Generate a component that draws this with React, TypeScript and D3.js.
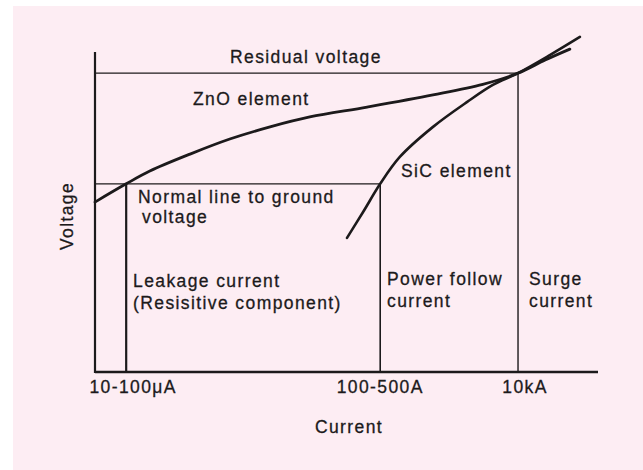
import React, { useRef, useEffect } from "react";
import * as d3 from "d3";

// schematic units: current position 0..100 along x, voltage 0..100 along y
const currentTicks = ["10-100\u03bcA", "100-500A", "10kA"];
const tickPositions = [6.2, 56.7, 84.1];
const tickLabelShift = [7, 0, 7];

const znoCurrent = [0, 6.2, 10.9, 18.9, 26.8, 34.8, 42.7, 54.1, 67.2, 77.1, 84.1, 89.5, 94.4];
const znoVoltage = [53.1, 58.8, 62.8, 68.1, 72.8, 76.6, 79.7, 82.8, 86.6, 89.9, 93.4, 97.5, 100.9];

const sicCurrent = [50.1, 53.3, 56.7, 60.6, 67.2, 74.0, 79.1, 84.1, 90.5, 96.4];
const sicVoltage = [41.9, 50.0, 58.8, 67.2, 76.6, 84.4, 89.7, 93.4, 99.1, 104.7];

const residualVoltage = 93.4;
const normalVoltage = 58.8;

const W = 643;
const H = 470;

const App = () => {
  const svgRef = useRef(null);

  useEffect(() => {
    const svg = d3.select(svgRef.current);
    svg.selectAll("*").remove();

    const font = "'Liberation Sans', Arial, sans-serif";
    const ink = "#1c1a1b";

    svg.append("rect").attr("width", W).attr("height", H).attr("fill", "#ffffff");
    svg
      .append("rect")
      .attr("x", 13)
      .attr("y", 6)
      .attr("width", W - 13)
      .attr("height", H - 6)
      .attr("fill", "#fdedf3");

    const x = d3.scaleLinear().domain([0, 100]).range([95, 598]);
    const y = d3.scaleLinear().domain([0, 100]).range([372, 52]);

    const g = svg.append("g");

    // reference lines
    const hline = (v, u1, w) =>
      g
        .append("line")
        .attr("x1", x(0))
        .attr("x2", x(u1))
        .attr("y1", y(v))
        .attr("y2", y(v))
        .attr("stroke", ink)
        .attr("stroke-width", w);
    const vline = (u, v1, w) =>
      g
        .append("line")
        .attr("x1", x(u))
        .attr("x2", x(u))
        .attr("y1", y(0))
        .attr("y2", y(v1))
        .attr("stroke", ink)
        .attr("stroke-width", w);

    hline(residualVoltage, tickPositions[2], 1.3);
    hline(normalVoltage, tickPositions[1], 1.3);
    vline(tickPositions[0], normalVoltage, 2.2);
    vline(tickPositions[1], normalVoltage, 1.6);
    vline(tickPositions[2], residualVoltage, 1.4);

    // axes
    g.append("line")
      .attr("x1", x(0))
      .attr("x2", x(0))
      .attr("y1", y(0) + 1)
      .attr("y2", y(100))
      .attr("stroke", ink)
      .attr("stroke-width", 2.2);
    g.append("line")
      .attr("x1", x(0))
      .attr("x2", x(100))
      .attr("y1", y(0))
      .attr("y2", y(0))
      .attr("stroke", ink)
      .attr("stroke-width", 2.5);

    // curves
    const line = d3
      .line()
      .x((d) => x(d[0]))
      .y((d) => y(d[1]))
      .curve(d3.curveCatmullRom.alpha(0.5));

    g.append("path")
      .attr("d", line(d3.zip(znoCurrent, znoVoltage)))
      .attr("fill", "none")
      .attr("stroke", ink)
      .attr("stroke-width", 2.8)
      .attr("stroke-linecap", "round");
    g.append("path")
      .attr("d", line(d3.zip(sicCurrent, sicVoltage)))
      .attr("fill", "none")
      .attr("stroke", ink)
      .attr("stroke-width", 2.6)
      .attr("stroke-linecap", "round");

    const label = (txt, px, py, anchor = "start") =>
      g
        .append("text")
        .attr("x", px)
        .attr("y", py)
        .attr("text-anchor", anchor)
        .attr("font-family", font)
        .attr("font-size", 17.5)
        .attr("letter-spacing", 1.4)
        .attr("fill", ink)
        .attr("stroke", ink)
        .attr("stroke-width", 0.3)
        .text(txt);

    // tick labels
    currentTicks.forEach((t, i) => {
      label(t, x(tickPositions[i]) + tickLabelShift[i], 393, "middle");
    });

    label("Residual voltage", 230, 63);
    label("ZnO element", 193, 105);
    label("SiC element", 401, 177);
    label("Normal line to ground", 138, 203);
    label("voltage", 142, 223);
    label("Leakage current", 133, 287);
    label("(Resisitive component)", 133, 309);
    label("Power follow", 387, 285);
    label("current", 387, 307);
    label("Surge", 529, 285);
    label("current", 529, 307);
    label("Current", 349, 433, "middle");

    label("Voltage", 0, 0, "middle").attr("transform", "translate(73,216) rotate(-90)");
  }, []);

  return (
    <svg
      ref={svgRef}
      width={W}
      height={H}
      style={{ position: "absolute", left: 0, top: 0 }}
    ></svg>
  );
};

export default App;
